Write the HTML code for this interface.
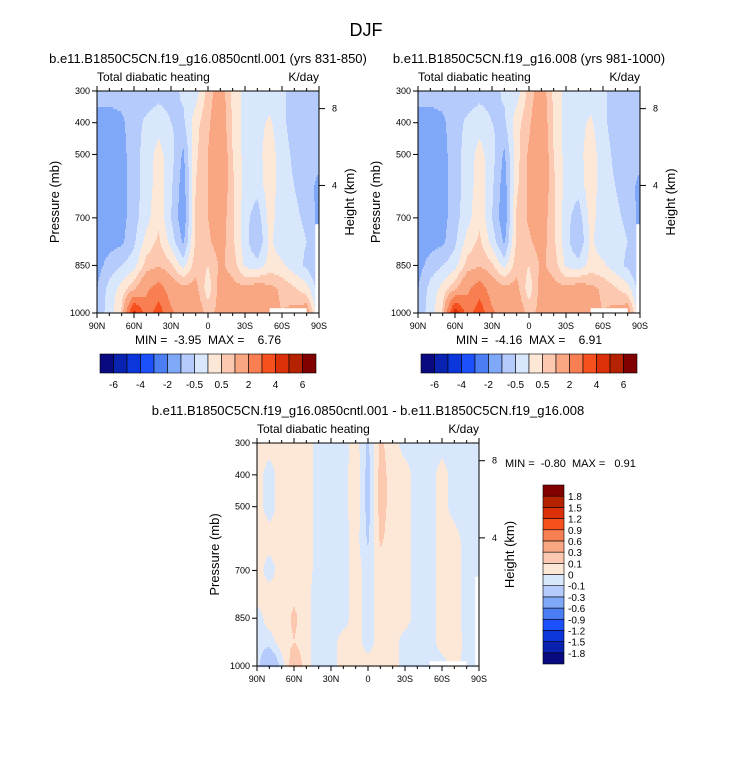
<!DOCTYPE html>
<html><head><meta charset="utf-8">
<style>
html,body{margin:0;padding:0;background:#fff;}
svg text{font-family:"Liberation Sans",Arial,sans-serif;fill:#000;}
.pre{white-space:pre;}
</style></head>
<body>
<svg id="fig" width="733" height="760" viewBox="0 0 733 760" xmlns="http://www.w3.org/2000/svg">
<rect width="733" height="760" fill="#fff"/>
<text x="366" y="36" font-size="18" text-anchor="middle">DJF</text>
<g id="g1"></g>
<g id="g2"></g>
<g id="g3"></g>
</svg>
<script>
// ---- data ----
const latLabels = ["90N","60N","30N","0","30S","60S","90S"];
const latTickVals = [90,60,30,0,-30,-60,-90];
const lats = [90,80,70,60,50,40,30,20,10,0,-10,-20,-30,-40,-50,-60,-70,-80,-90];
const pressures = [300,400,500,600,700,775,850,925,1000];
const pTicks = [300,400,500,700,850,1000];
const hTicks = [8,4];
const boundsMain = [-6,-5,-4,-3,-2,-1,-0.5,0,0.5,1,2,3,4,5,6];
const boundsMainLabels = ["-6","","-4","","-2","","-0.5","","0.5","","2","","4","","6"];
const boundsDiff = [-1.8,-1.5,-1.2,-0.9,-0.6,-0.3,-0.1,0,0.1,0.3,0.6,0.9,1.2,1.5,1.8];
const boundsDiffLabels = ["-1.8","-1.5","-1.2","-0.9","-0.6","-0.3","-0.1","0","0.1","0.3","0.6","0.9","1.2","1.5","1.8"];
const palette = ["#0a0a80","#0a22b0","#0a36dc","#1c50fa","#4a7ef2","#80a8f8","#b4cbfb","#d8e7fc","#fde8d8","#fcc9b0","#f9a683","#f77f52","#f5501e","#dc3008","#b52200","#800000"];

const field1 = [
[-0.8,-0.8,-0.8,-0.8,-0.8,-0.7,-0.7,-0.4,-0.3,0.7,1.4,0.4,-0.2,-0.3,-0.3,-0.4,-0.7,-0.8,-0.6],
[-1.2,-1.2,-1.1,-0.7,-0.4,-0.2,-0.5,-0.6,0.3,0.9,1.5,0.4,-0.2,-0.2,0.1,-0.4,-0.7,-0.9,-0.7],
[-1.3,-1.3,-1.2,-0.7,-0.3,0.2,-0.3,-1.1,0.4,1.0,1.7,0.5,-0.2,-0.2,0.3,-0.3,-0.6,-0.8,-0.7],
[-1.3,-1.3,-1.2,-0.7,-0.3,0.3,-0.4,-1.3,0.5,1.0,1.6,0.6,-0.2,-0.3,0.3,-0.3,-0.5,-0.7,-1.2],
[-1.3,-1.3,-1.2,-0.7,-0.2,0.4,-0.5,-1.4,0.6,1.0,1.4,0.6,-0.3,-0.8,0.2,-0.3,-0.4,-0.6,-1.2],
[-1.3,-1.2,-1.1,-0.6,0.2,0.6,-0.2,-1.1,0.6,0.9,1.3,0.6,-0.3,-1.0,0.1,-0.3,-0.3,-0.5,-1.1],
[-1.2,-0.8,-0.5,-0.2,0.7,0.9,0.6,-0.2,0.8,0.5,1.1,0.8,-0.1,-0.3,0.2,0.1,-0.3,-0.6,-1.0],
[-1.0,-0.3,0.2,0.9,1.8,2.5,1.5,1.2,1.2,0.2,1.3,1.2,1.2,1.4,1.2,0.9,0.6,0.2,-0.8],
[-0.8,-0.3,0.6,4.5,2.5,3.5,2.2,1.5,1.5,0.8,1.2,1.0,1.5,1.5,1.2,1.0,1.2,1.5,-0.5]];
const field2 = [
[-0.8,-0.8,-0.8,-0.8,-0.8,-0.7,-0.7,-0.4,-0.3,0.7,1.4,0.4,-0.2,-0.3,-0.3,-0.4,-0.7,-0.8,-0.6],
[-1.2,-1.2,-1.1,-0.7,-0.4,-0.2,-0.5,-0.6,0.3,0.9,1.6,0.4,-0.2,-0.2,0.1,-0.4,-0.7,-0.9,-0.7],
[-1.3,-1.3,-1.2,-0.7,-0.3,0.2,-0.3,-1.1,0.3,1.1,1.7,0.5,-0.2,-0.2,0.3,-0.3,-0.6,-0.8,-0.7],
[-1.3,-1.3,-1.2,-0.7,-0.3,0.3,-0.4,-1.3,0.4,1.1,1.6,0.6,-0.2,-0.3,0.3,-0.3,-0.5,-0.7,-1.2],
[-1.3,-1.3,-1.2,-0.7,-0.2,0.4,-0.5,-1.4,0.6,1.1,1.4,0.6,-0.3,-0.8,0.2,-0.3,-0.4,-0.6,-1.2],
[-1.3,-1.2,-1.1,-0.6,0.2,0.6,-0.2,-1.1,0.6,0.9,1.3,0.6,-0.3,-1.0,0.1,-0.3,-0.3,-0.5,-1.1],
[-1.2,-0.8,-0.5,-0.2,0.7,0.9,0.6,-0.2,0.8,0.5,1.1,0.8,-0.1,-0.3,0.2,0.1,-0.3,-0.6,-1.0],
[-1.0,-0.3,0.2,0.9,1.8,2.6,1.5,1.2,1.2,0.2,1.3,1.2,1.2,1.4,1.2,0.9,0.6,0.2,-0.8],
[-0.8,-0.3,0.6,4.8,2.5,3.6,2.2,1.5,1.5,0.8,1.2,1.0,1.5,1.5,1.2,1.0,1.2,1.5,-0.5]];
const field3 = [
[0.05,0.05,0.05,0.05,0.05,-0.05,-0.05,-0.05,0.05,-0.12,0.12,0.05,-0.05,-0.05,-0.05,-0.05,-0.05,-0.05,-0.05],
[0.05,-0.05,0.05,0.05,0.05,-0.05,-0.05,-0.05,0.08,-0.15,0.15,0.05,0.05,-0.05,-0.05,0.05,-0.05,-0.05,-0.05],
[0.05,-0.05,0.05,0.05,0.05,-0.05,-0.05,-0.05,0.08,-0.15,0.15,0.05,0.05,-0.05,-0.05,0.05,-0.05,-0.05,-0.05],
[0.05,0.05,0.05,0.05,0.05,-0.05,-0.05,-0.05,0.05,-0.12,0.12,0.05,0.05,-0.05,-0.05,0.05,0.05,-0.05,-0.05],
[0.05,-0.05,0.05,0.05,0.05,-0.05,-0.05,-0.05,0.05,-0.05,0.05,0.05,0.05,-0.05,-0.05,0.05,0.05,-0.05,-0.05],
[0.05,0.05,0.05,0.08,0.05,-0.08,-0.05,-0.05,0.05,-0.05,0.05,0.05,0.05,-0.05,-0.05,0.05,0.05,-0.05,-0.05],
[-0.05,0.05,0.05,0.12,0.05,-0.08,-0.05,-0.05,0.05,-0.05,0.05,0.05,0.05,-0.05,-0.05,0.05,0.05,-0.05,-0.05],
[-0.05,-0.05,0.05,0.1,0.05,-0.08,-0.05,0.05,0.05,-0.05,0.05,0.05,-0.05,-0.05,-0.05,0.05,0.08,-0.05,-0.05],
[-0.05,-0.3,-0.05,0.2,0.05,-0.08,-0.05,0.05,0.05,0.05,0.05,0.05,-0.05,-0.05,-0.05,-0.05,0.05,-0.05,-0.05]];

const panels = [
 {g:"g1", field:field1, bounds:boundsMain, x0:97, x1:319, y0:91, y1:313, title:"b.e11.B1850C5CN.f19_g16.0850cntl.001 (yrs 831-850)", minmax:"MIN =  -3.95  MAX =    6.76", cb:"h", cbx:100, cbw:216, cby:354, cbh:19, mask:true},
 {g:"g2", field:field2, bounds:boundsMain, x0:418, x1:640, y0:91, y1:313, title:"b.e11.B1850C5CN.f19_g16.008 (yrs 981-1000)", minmax:"MIN =  -4.16  MAX =    6.91", cb:"h", cbx:421, cbw:216, cby:354, cbh:19, mask:true},
 {g:"g3", field:field3, bounds:boundsDiff, x0:257, x1:479, y0:443, y1:666, title:"b.e11.B1850C5CN.f19_g16.0850cntl.001 - b.e11.B1850C5CN.f19_g16.008", minmax:"MIN =  -0.80  MAX =   0.91", cb:"v", cbx:543, cbw:21, cby:485, cbh:179, mask:true}
];
const NS="http://www.w3.org/2000/svg";
function mk(tag, attrs, parent){const e=document.createElementNS(NS,tag);for(const k in attrs)e.setAttribute(k,attrs[k]);parent.appendChild(e);return e;}
function colorIndex(v,b){let i=0;while(i<b.length&&v>=b[i])i++;return i;}
function sample(field,lat,p){
  let fi=(90-lat)/10; fi=Math.max(0,Math.min(lats.length-1.0001,fi));
  const i0=Math.floor(fi), tx=fi-i0;
  let j0=0; while(j0<pressures.length-2 && p>pressures[j0+1]) j0++;
  let ty=(p-pressures[j0])/(pressures[j0+1]-pressures[j0]); ty=Math.max(0,Math.min(1,ty));
  const a=field[j0][i0],b=field[j0][i0+1],c=field[j0+1][i0],d=field[j0+1][i0+1];
  return (a*(1-tx)+b*tx)*(1-ty)+(c*(1-tx)+d*tx)*ty;
}
panels.forEach(P=>{
  const g=document.getElementById(P.g);
  const xs=lat=>P.x0+(90-lat)/180*(P.x1-P.x0);
  const ys=p=>P.y0+(p-300)/700*(P.y1-P.y0);
  const cx=(P.x0+P.x1)/2;
  const t=mk("text",{x:cx,y:P.y0-28,"font-size":13,"text-anchor":"middle"},g);
  t.textContent=P.title;
  
  
  const st=mk("text",{x:P.x0,y:P.y0-10,"font-size":12},g); st.textContent="Total diabatic heating";
  
  
  const un=mk("text",{x:P.x1,y:P.y0-10,"font-size":12,"text-anchor":"end"},g); un.textContent="K/day";
  
  
  const fg=mk("g",{},g);
  
  
  const W=P.x1-P.x0, H=P.y1-P.y0, dy=2;
  for(let y=0;y<H;y+=dy){
    const p=300+(y+dy/2)/H*700;
    let start=0, cur=-1;
    for(let x=0;x<=W;x++){
      let ci=-2;
      if(x<W){const lat=90-(x+0.5)/W*180; ci=colorIndex(sample(P.field,lat,p),P.bounds);}
      if(ci!==cur){
        if(cur>=0){const r=mk("rect",{x:P.x0+start,y:P.y0+y,width:x-start+0.5,height:dy+0.3,fill:palette[cur]},fg);
          
          }
        start=x;cur=ci;
      }
    }
  }
  if(P.mask){
    const m1=mk("rect",{x:xs(-50),y:ys(985),width:xs(-80)-xs(-50),height:ys(1000)-ys(985),fill:"#fff"},g);
    
    
    const m2=mk("rect",{x:xs(-87),y:ys(720),width:xs(-90)-xs(-87),height:ys(1000)-ys(720),fill:"#fff"},g);
    
    
  }
  const fr=mk("rect",{x:P.x0,y:P.y0,width:W,height:H,fill:"none",stroke:"#000","stroke-width":1},g);
  
  
  for(let lat=90;lat>=-90;lat-=10){
    const major=lat%30===0;
    mk("line",{x1:xs(lat),x2:xs(lat),y1:P.y1,y2:P.y1+(major?5:3),stroke:"#000"},g);
    mk("line",{x1:xs(lat),x2:xs(lat),y1:P.y0,y2:P.y0-(major?5:3),stroke:"#000"},g);
  }
  latTickVals.forEach((v,i)=>{
    const l=mk("text",{x:xs(v),y:P.y1+16,"font-size":9,"text-anchor":"middle"},g); l.textContent=latLabels[i];
    
    
  });
  pTicks.forEach(p=>{
    mk("line",{x1:P.x0-5,x2:P.x0,y1:ys(p),y2:ys(p),stroke:"#000"},g);
    const l=mk("text",{x:P.x0-7,y:ys(p)+3,"font-size":9,"text-anchor":"end"},g); l.textContent=p;
    
    
  });
  const hy=h=>ys(1005*Math.exp(-h/7.7));
  hTicks.forEach(h=>{
    mk("line",{x1:P.x1,x2:P.x1+6,y1:hy(h),y2:hy(h),stroke:"#000"},g);
    const l=mk("text",{x:P.x1+13,y:hy(h)+3,"font-size":9},g); l.textContent=h;
    
    
  });
  const yt=mk("text",{transform:`translate(${P.x0-38},${(P.y0+P.y1)/2}) rotate(-90)`,"font-size":13,"text-anchor":"middle"},g);
  yt.textContent="Pressure (mb)";
  
  
  const ht=mk("text",{transform:`translate(${P.x1+35},${(P.y0+P.y1)/2}) rotate(-90)`,"font-size":13,"text-anchor":"middle"},g);
  ht.textContent="Height (km)";
  
  
  const mm = P.cb==="h" ? mk("text",{x:cx,y:P.y1+31,"font-size":12,"text-anchor":"middle","class":"pre"},g)
                        : mk("text",{x:P.x1+26,y:P.y0+24,"font-size":11,"class":"pre"},g);
  mm.textContent=P.minmax;
  
  
  const cbg=mk("g",{},g);
  
  
  const n=palette.length;
  if(P.cb==="h"){
    const bw=P.cbw/n;
    palette.forEach((c,i)=>{const r=mk("rect",{x:P.cbx+i*bw,y:P.cby,width:bw,height:P.cbh,fill:c,stroke:"#000","stroke-width":0.6},cbg);
      
      });
    boundsMainLabels.forEach((s,i)=>{ if(!s) return;
      const l=mk("text",{x:P.cbx+(i+1)*bw,y:P.cby+P.cbh+15,"font-size":10,"text-anchor":"middle"},cbg); l.textContent=s;
      
      });
  } else {
    const bh=P.cbh/n;
    palette.forEach((c,i)=>{const r=mk("rect",{x:P.cbx,y:P.cby+P.cbh-(i+1)*bh,width:P.cbw,height:bh,fill:c,stroke:"#000","stroke-width":0.6},cbg);
      
      });
    boundsDiffLabels.forEach((s,i)=>{
      const l=mk("text",{x:P.cbx+P.cbw+4,y:P.cby+P.cbh-(i+1)*bh+4,"font-size":10},cbg); l.textContent=s;
      
      });
  }
});
</script>
</body></html>
